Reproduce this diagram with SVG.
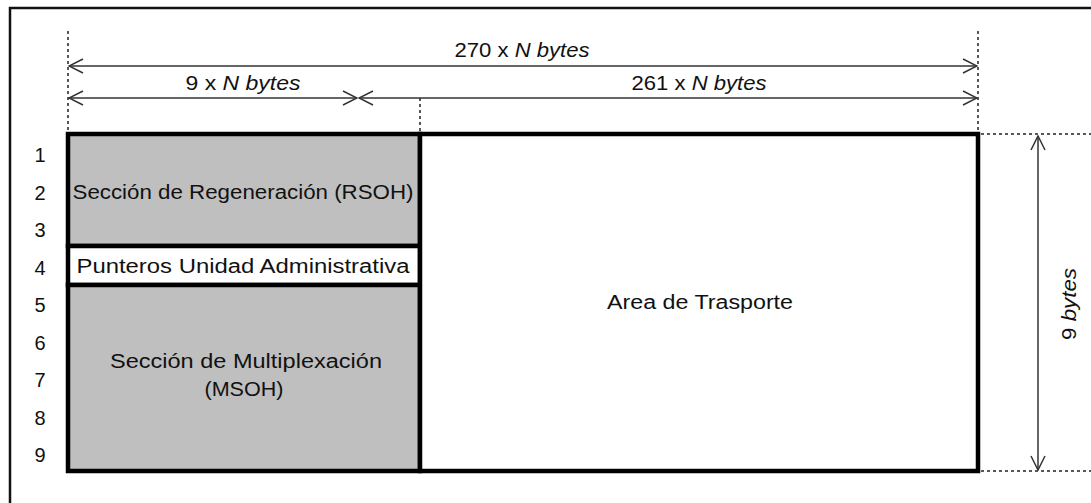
<svg xmlns="http://www.w3.org/2000/svg" width="1091" height="503" viewBox="0 0 1091 503">
<style>
text{font-family:"Liberation Sans",Arial,sans-serif;font-size:20px;fill:#111}
.c{text-anchor:middle}
.i{font-style:italic}
.n{font-size:20px}
.dim{stroke:#333;stroke-width:1.5;fill:none}
.dot{stroke:#222;stroke-width:1.5;stroke-dasharray:3 3;fill:none}
.box{stroke:#000;stroke-width:4.5}
.gray{fill:#bfbfbf}
</style>
<defs>
<marker id="open" viewBox="0 0 16 16" refX="15" refY="8" markerWidth="16" markerHeight="16" markerUnits="userSpaceOnUse" orient="auto-start-reverse">
<path d="M1,1 L15,8 L1,15" fill="none" stroke="#333" stroke-width="1.5"/>
</marker>
</defs>
<rect width="1091" height="503" fill="#fff"/>
<path d="M10,503 V8 H1091" fill="none" stroke="#111" stroke-width="2.5"/>

<g id="guides">
<path class="dot" d="M68,31 V132"/>
<path class="dot" d="M420,98 V132"/>
<path class="dot" d="M978,31 V132"/>
<path class="dot" d="M981,134 H1091"/>
<path class="dot" d="M981,471 H1091"/>
</g>

<g id="connectors">
<path class="dim" d="M69,66 H977" marker-start="url(#open)" marker-end="url(#open)"/>
<path class="dim" d="M69,98 H357" marker-start="url(#open)" marker-end="url(#open)"/>
<path class="dim" d="M359,98 H977" marker-start="url(#open)" marker-end="url(#open)"/>
<path class="dim" d="M1038,136 V470" marker-start="url(#open)" marker-end="url(#open)"/>
</g>

<g id="labels-dim">
<text class="c" x="522" y="57" textLength="135" lengthAdjust="spacingAndGlyphs">270 x <tspan class="i">N bytes</tspan></text>
<text class="c" x="243" y="90" textLength="115" lengthAdjust="spacingAndGlyphs">9 x <tspan class="i">N  bytes</tspan></text>
<text class="c" x="699" y="90" textLength="135" lengthAdjust="spacingAndGlyphs">261 x <tspan class="i">N bytes</tspan></text>
<text class="c" transform="translate(1076,304) rotate(-90)" x="0" y="0" textLength="72" lengthAdjust="spacingAndGlyphs">9 <tspan class="i">bytes</tspan></text>
</g>

<g id="rows">
<text class="c n" x="40" y="162">1</text>
<text class="c n" x="40" y="200">2</text>
<text class="c n" x="40" y="237">3</text>
<text class="c n" x="40" y="275">4</text>
<text class="c n" x="40" y="312">5</text>
<text class="c n" x="40" y="350">6</text>
<text class="c n" x="40" y="387">7</text>
<text class="c n" x="40" y="425">8</text>
<text class="c n" x="40" y="462">9</text>
</g>

<g id="rsoh">
<rect class="gray box" x="68" y="134" width="352" height="112"/>
<text class="c" x="243" y="199" textLength="341" lengthAdjust="spacingAndGlyphs">Sección de Regeneración (RSOH)</text>
</g>

<g id="punteros">
<rect class="box" fill="#fff" x="68" y="246" width="352" height="39"/>
<text class="c" x="243" y="273" textLength="333" lengthAdjust="spacingAndGlyphs">Punteros Unidad Administrativa</text>
</g>

<g id="msoh">
<rect class="gray box" x="68" y="285" width="352" height="186"/>
<text class="c" x="246" y="368" textLength="272" lengthAdjust="spacingAndGlyphs">Sección de Multiplexación</text>
<text class="c" x="244" y="396" textLength="79" lengthAdjust="spacingAndGlyphs">(MSOH)</text>
</g>

<g id="area">
<rect class="box" fill="#fff" x="420" y="134" width="558" height="337"/>
<text class="c" x="700" y="309" textLength="186" lengthAdjust="spacingAndGlyphs">Area de Trasporte</text>
</g>
</svg>
